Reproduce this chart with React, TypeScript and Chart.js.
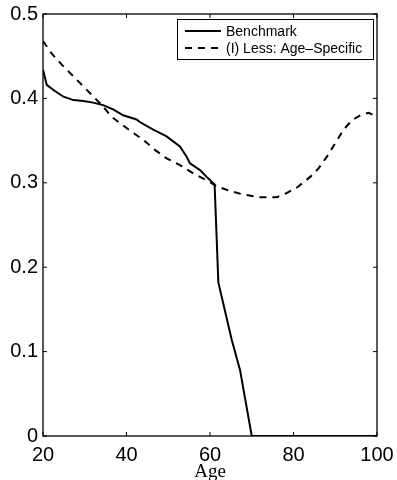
import React, { useEffect, useRef } from "react";
import { Chart, registerables } from "chart.js";

Chart.register(...registerables);

const benchmarkAge = [20, 20.9, 22.5, 24.9, 27.3, 29.7, 32, 34.4, 36.8, 39.2, 42.4, 43.2, 46.4, 49.6, 52.8, 54.4, 55.2, 57.6, 59.2, 61.1, 62, 65.2, 67.2, 70, 100];
const benchmarkValue = [0.434, 0.416, 0.41, 0.402, 0.398, 0.397, 0.395, 0.392, 0.387, 0.38, 0.375, 0.372, 0.363, 0.355, 0.343, 0.331, 0.323, 0.315, 0.307, 0.298, 0.182, 0.114, 0.078, 0, 0];

const lessAge = [20, 22.1, 24.5, 26.9, 29.3, 31.7, 34.1, 36.5, 40.8, 44, 46.8, 49.6, 52.8, 56, 59.2, 61.6, 64.4, 68, 72, 76, 78, 81, 84, 86, 88, 90, 92, 94, 96, 98, 100];
const lessValue = [0.468, 0.453, 0.44, 0.428, 0.416, 0.404, 0.392, 0.378, 0.362, 0.351, 0.339, 0.329, 0.321, 0.311, 0.303, 0.296, 0.291, 0.286, 0.283, 0.283, 0.287, 0.295, 0.307, 0.317, 0.331, 0.347, 0.363, 0.374, 0.38, 0.383, 0.378];

const seriesLabels = ["Benchmark", "(I) Less: Age\u2013Specific"];
const xTicks = [20, 40, 60, 80, 100];
const yTicks = [0, 0.1, 0.2, 0.3, 0.4, 0.5];
const xTitle = "Age";

const SANS = "'Liberation Sans', Arial, Helvetica, sans-serif";
const SERIF = "'Liberation Serif', 'Times New Roman', serif";

const frame = {
  id: "matlabFrame",
  afterDraw(chart: any) {
    const { ctx, chartArea: a, scales } = chart;
    ctx.save();
    ctx.strokeStyle = "#000";
    ctx.lineWidth = 1.3;
    ctx.setLineDash([]);
    ctx.strokeRect(a.left, a.top, a.right - a.left, a.bottom - a.top);
    const tl = 4;
    ctx.lineWidth = 1;
    ctx.beginPath();
    for (const t of scales.x.ticks) {
      const px = scales.x.getPixelForValue(t.value);
      ctx.moveTo(px, a.bottom);
      ctx.lineTo(px, a.bottom - tl);
      ctx.moveTo(px, a.top);
      ctx.lineTo(px, a.top + tl);
    }
    for (const t of scales.y.ticks) {
      const py = scales.y.getPixelForValue(t.value);
      ctx.moveTo(a.left, py);
      ctx.lineTo(a.left + tl, py);
      ctx.moveTo(a.right, py);
      ctx.lineTo(a.right - tl, py);
    }
    ctx.stroke();

    // legend
    const lx = 177, ly = 19, lw = 196, lh = 40;
    ctx.fillStyle = "#fff";
    ctx.fillRect(lx, ly, lw, lh);
    ctx.lineWidth = 1;
    ctx.strokeRect(lx + 0.5, ly + 0.5, lw, lh);
    ctx.font = `14px ${SANS}`;
    ctx.textBaseline = "middle";
    ctx.textAlign = "left";
    const rows = [31, 48];
    chart.data.datasets.forEach((ds: any, i: number) => {
      const y = rows[i];
      ctx.beginPath();
      ctx.lineWidth = 2;
      ctx.strokeStyle = "#000";
      ctx.setLineDash(ds.borderDash || []);
      ctx.moveTo(185, y);
      ctx.lineTo(221, y);
      ctx.stroke();
      ctx.setLineDash([]);
      ctx.fillStyle = "#000";
      ctx.fillText(ds.label, 226, y + 1);
    });

    // axis title
    ctx.font = `19px ${SERIF}`;
    ctx.textAlign = "center";
    ctx.textBaseline = "alphabetic";
    ctx.fillText(xTitle, (a.left + a.right) / 2, 477);
    ctx.restore();
  },
};

export default function App() {
  const ref = useRef<HTMLCanvasElement>(null);
  useEffect(() => {
    document.body.style.margin = "0";
    const canvas = ref.current!;
    const chart = new Chart(canvas, {
      type: "line",
      data: {
        datasets: [
          {
            label: seriesLabels[0],
            data: benchmarkAge.map((x, i) => ({ x, y: benchmarkValue[i] })),
            borderColor: "#000",
            borderWidth: 2,
            pointRadius: 0,
            tension: 0,
            fill: false,
          },
          {
            label: seriesLabels[1],
            data: lessAge.map((x, i) => ({ x, y: lessValue[i] })),
            borderColor: "#000",
            borderWidth: 2,
            borderDash: [7, 6],
            pointRadius: 0,
            tension: 0,
            fill: false,
          },
        ],
      },
      options: {
        animation: false,
        responsive: false,
        maintainAspectRatio: false,
        layout: { padding: { left: 0, right: 20, top: 14, bottom: 0 } },
        plugins: { legend: { display: false }, tooltip: { enabled: false } },
        scales: {
          x: {
            type: "linear",
            min: 20,
            max: 100,
            afterBuildTicks: (s: any) => {
              s.ticks = xTicks.map((v) => ({ value: v }));
            },
            afterFit: (s: any) => {
              s.height = 44;
              s.paddingLeft = 0;
              s.paddingRight = 0;
            },
            grid: { display: false, drawTicks: false },
            border: { display: false },
            ticks: {
              color: "#000",
              font: { family: SANS, size: 20 },
              padding: 7,
              maxRotation: 0,
              autoSkip: false,
            },
          },
          y: {
            type: "linear",
            min: 0,
            max: 0.5,
            afterBuildTicks: (s: any) => {
              s.ticks = yTicks.map((v) => ({ value: v }));
            },
            afterFit: (s: any) => {
              s.width = 43;
              s.paddingTop = 0;
              s.paddingBottom = 0;
            },
            grid: { display: false, drawTicks: false },
            border: { display: false },
            ticks: {
              color: "#000",
              font: { family: SANS, size: 20 },
              padding: 5,
              autoSkip: false,
              callback: (v: any) => String(Math.round(Number(v) * 10) / 10),
            },
          },
        },
      },
      plugins: [frame],
    });
    return () => chart.destroy();
  }, []);
  return <canvas ref={ref} width={397} height={480} style={{ display: "block" }} />;
}
